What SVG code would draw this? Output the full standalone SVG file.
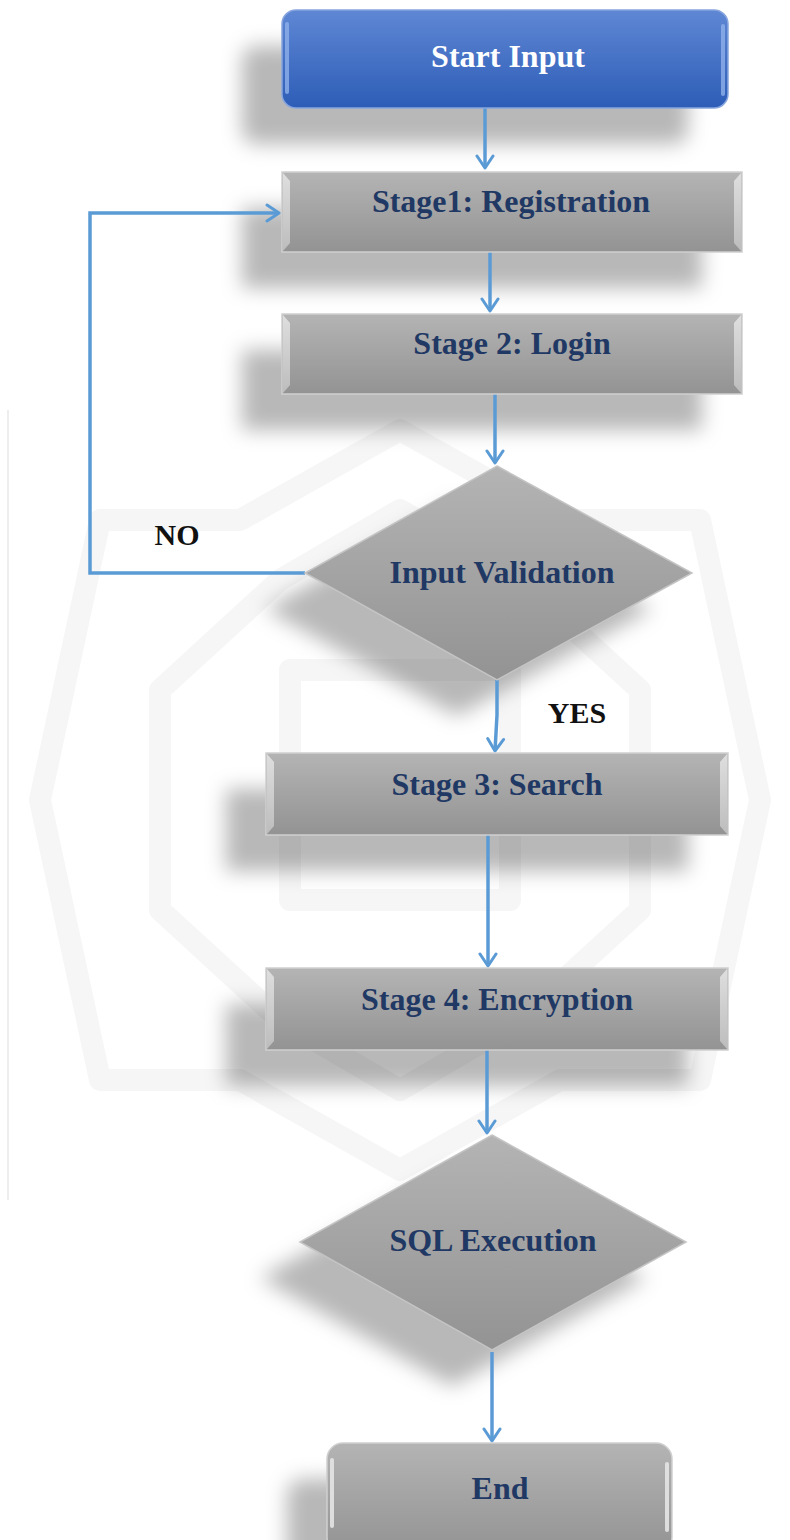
<svg xmlns="http://www.w3.org/2000/svg" width="790" height="1540" viewBox="0 0 790 1540">
<defs>
<linearGradient id="gBlue" x1="0" y1="0" x2="0" y2="1">
<stop offset="0" stop-color="#5f87d4"/>
<stop offset="1" stop-color="#2d5db7"/>
</linearGradient>
<linearGradient id="gGray" x1="0" y1="0" x2="0" y2="1">
<stop offset="0" stop-color="#b4b4b4"/>
<stop offset="1" stop-color="#939393"/>
</linearGradient>
<linearGradient id="gBevel" x1="0" y1="0" x2="0" y2="1">
<stop offset="0" stop-color="#e6e6e6"/>
<stop offset="1" stop-color="#c4c4c4"/>
</linearGradient>
<filter id="shadow" x="-30%" y="-40%" width="160%" height="200%">
<feGaussianBlur in="SourceAlpha" stdDeviation="10"/>
<feOffset dx="-40" dy="36" result="b"/>
<feFlood flood-color="#000" flood-opacity="0.28"/>
<feComposite in2="b" operator="in"/>
</filter>
<marker id="arr" viewBox="0 0 20 20" refX="17" refY="10" markerWidth="20" markerHeight="20" markerUnits="userSpaceOnUse" orient="auto">
<path d="M5,2 L17,10 L5,18" fill="none" stroke="#5b9bd5" stroke-width="3" stroke-linecap="round" stroke-linejoin="round"/>
</marker>
</defs>
<style>
.lbl{font-family:"Liberation Serif","Times New Roman",serif;font-weight:bold;font-size:32px;fill:#1f3864;text-anchor:middle}
.white{fill:#ffffff}
.blk{fill:#111111;font-size:30px}
.box{fill:url(#gGray);stroke:#cfcfcf;stroke-width:1.5}
.bev{fill:url(#gBevel);opacity:0.85}
.conn{fill:none;stroke:#5b9bd5;stroke-width:3.5}
.wm{fill:none;stroke:#f6f6f6;stroke-width:22;stroke-linejoin:round}
</style>
<rect width="790" height="1540" fill="#ffffff"/>
<g id="watermark">
<line x1="8" y1="410" x2="8" y2="1200" stroke="#e8e8e8" stroke-width="1.5"/>
<polygon class="wm" points="400,430 560,520 700,520 760,800 700,1080 560,1080 400,1170 240,1080 100,1080 40,800 100,520 240,520"/>
<polygon class="wm" points="400,510 520,580 640,690 640,910 520,1020 400,1090 280,1020 160,910 160,690 280,580"/>
<rect class="wm" x="290" y="670" width="220" height="230"/>
</g>
<g id="shadows" filter="url(#shadow)" fill="#000">
<rect x="282" y="10" width="446" height="98" rx="14"/>
<rect x="282" y="172" width="460" height="80"/>
<rect x="282" y="314" width="460" height="80"/>
<polygon points="497,466 692,573 497,680 305,573"/>
<rect x="266" y="753" width="462" height="82"/>
<rect x="266" y="968" width="462" height="82"/>
<polygon points="492,1135 686,1242 492,1350 300,1242"/>
<rect x="327" y="1443" width="345" height="110" rx="16"/>
</g>
<g id="connectors">
<line class="conn" x1="485" y1="108" x2="485" y2="168" marker-end="url(#arr)"/>
<line class="conn" x1="490" y1="252" x2="490" y2="311" marker-end="url(#arr)"/>
<line class="conn" x1="495" y1="394" x2="495" y2="463" marker-end="url(#arr)"/>
<polyline class="conn" points="305,573 90,573 90,213 279,213" marker-end="url(#arr)"/>
<polyline class="conn" points="497,680 497,715 495,751" marker-end="url(#arr)"/>
<line class="conn" x1="488" y1="835" x2="488" y2="966" marker-end="url(#arr)"/>
<line class="conn" x1="487" y1="1050" x2="487" y2="1133" marker-end="url(#arr)"/>
<line class="conn" x1="492" y1="1352" x2="492" y2="1441" marker-end="url(#arr)"/>
<text class="lbl blk" x="177" y="545">NO</text>
<text class="lbl blk" x="577" y="723">YES</text>
</g>
<g id="start">
<rect x="282" y="10" width="446" height="98" rx="14" fill="url(#gBlue)" stroke="#86a5de" stroke-width="1.5"/>
<rect x="285" y="22" width="4" height="72" rx="2" fill="#8fb0ea" opacity="0.8"/>
<rect x="721" y="24" width="4" height="72" rx="2" fill="#8fb0ea" opacity="0.8"/>
<text class="lbl white" x="508" y="67">Start Input</text>
</g>
<g id="stage1">
<rect class="box" x="282" y="172" width="460" height="80"/>
<polygon class="bev" points="283,173 290,181 290,243 283,251"/>
<polygon class="bev" points="741,173 734,181 734,243 741,251"/>
<text class="lbl" x="511" y="212">Stage1: Registration</text>
</g>
<g id="stage2">
<rect class="box" x="282" y="314" width="460" height="80"/>
<polygon class="bev" points="283,315 290,323 290,385 283,393"/>
<polygon class="bev" points="741,315 734,323 734,385 741,393"/>
<text class="lbl" x="512" y="354">Stage 2: Login</text>
</g>
<g id="validation">
<polygon points="497,466 692,573 497,680 305,573" fill="url(#gGray)" stroke="#c4c4c4" stroke-width="1.5"/>
<text class="lbl" x="502" y="583">Input Validation</text>
</g>
<g id="stage3">
<rect class="box" x="266" y="753" width="462" height="82"/>
<polygon class="bev" points="267,754 274,762 274,826 267,834"/>
<polygon class="bev" points="727,754 720,762 720,826 727,834"/>
<text class="lbl" x="497" y="795">Stage 3: Search</text>
</g>
<g id="stage4">
<rect class="box" x="266" y="968" width="462" height="82"/>
<polygon class="bev" points="267,969 274,977 274,1041 267,1049"/>
<polygon class="bev" points="727,969 720,977 720,1041 727,1049"/>
<text class="lbl" x="497" y="1010">Stage 4: Encryption</text>
</g>
<g id="sql">
<polygon points="492,1135 686,1242 492,1350 300,1242" fill="url(#gGray)" stroke="#c4c4c4" stroke-width="1.5"/>
<text class="lbl" x="493" y="1251">SQL Execution</text>
</g>
<g id="end">
<rect x="327" y="1443" width="345" height="110" rx="16" fill="url(#gGray)" stroke="#cfcfcf" stroke-width="1.5"/>
<rect x="330" y="1458" width="4" height="70" rx="2" fill="#e4e4e4" opacity="0.9"/>
<rect x="665" y="1462" width="4" height="70" rx="2" fill="#e4e4e4" opacity="0.9"/>
<text class="lbl" x="500" y="1499">End</text>
</g>
</svg>
